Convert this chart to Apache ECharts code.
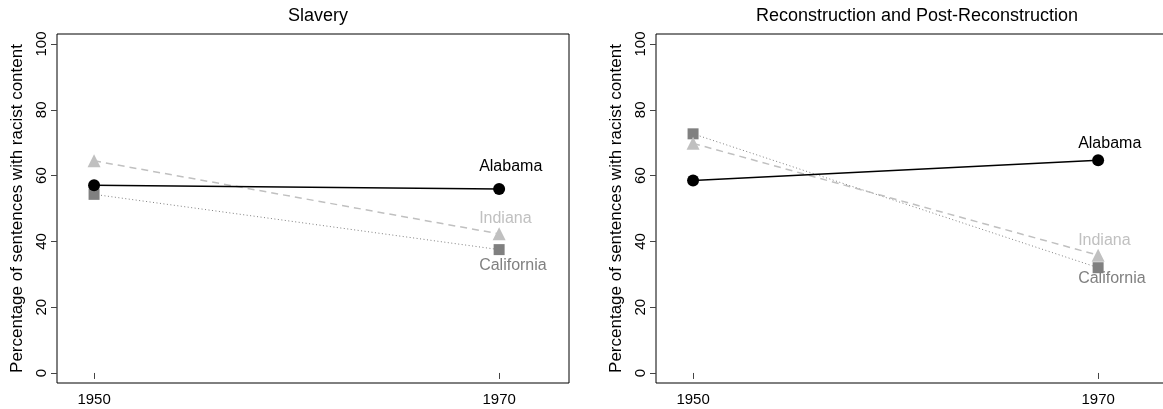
<!DOCTYPE html>
<html>
<head>
<meta charset="utf-8">
<script src="https://cdn.jsdelivr.net/npm/echarts@6/dist/echarts.min.js"></script>
<style>
html,body{margin:0;padding:0;background:#fff;}
#chart{width:1163px;height:409px;}
</style>
</head>
<body>
<div id="chart"></div>
<script>
// ---- data ----
const years = [1950, 1970];
const xTicks = [1950, 1970];
const yTicks = [0, 20, 40, 60, 80, 100];
const panelTitles = ['Slavery', 'Reconstruction and Post-Reconstruction'];
const stateNames = ['California', 'Indiana', 'Alabama'];
const slaveryCalifornia = [54.3, 37.5];
const slaveryIndiana = [64.5, 42.3];
const slaveryAlabama = [57.1, 55.9];
const reconCalifornia = [72.7, 32.0];
const reconIndiana = [69.8, 35.8];
const reconAlabama = [58.5, 64.7];

const FONT = 'Liberation Sans, Arial, Helvetica, sans-serif';
const chart = echarts.init(document.getElementById('chart'), null, {renderer: 'canvas'});

const styles = {
  California: {color: '#808080', symbol: 'rect', size: 11, line: {type: [1, 2.5], width: 1}},
  Indiana: {color: '#c0c0c0', symbol: 'triangle', size: 13, line: {type: [7, 5], width: 1.5}},
  Alabama: {color: '#000000', symbol: 'circle', size: 12, line: {type: 'solid', width: 1.5}}
};
// label offsets per panel [dx, dy] relative to 1970 point
const labelOffsets = [
  {California: [-20, 16], Indiana: [-20, -15], Alabama: [-20, -22]},
  {California: [-20, 11], Indiana: [-20, -15], Alabama: [-20, -17]}
];
const panelData = [
  {California: slaveryCalifornia, Indiana: slaveryIndiana, Alabama: slaveryAlabama},
  {California: reconCalifornia, Indiana: reconIndiana, Alabama: reconAlabama}
];

const gridLefts = [57, 656];
const grids = gridLefts.map(l => ({
  left: l, top: 34, width: 512, height: 349,
  outerBoundsMode: 'none', containLabel: false,
  show: true, borderColor: '#000', borderWidth: 1, backgroundColor: 'transparent'
}));

const xAxes = [0, 1].map(i => ({
  type: 'value', gridIndex: i, min: 1948.17, max: 1973.45,
  splitLine: {show: false},
  axisLine: {show: false},
  axisTick: {show: true, length: 6, lineStyle: {color: '#444', width: 1}, customValues: xTicks},
  axisLabel: {show: true, margin: 9, color: '#000', fontSize: 15, fontFamily: FONT,
    customValues: xTicks, formatter: v => String(v)}
}));

const yAxes = [0, 1].map(i => ({
  type: 'value', gridIndex: i, min: -3.05, max: 103.05,
  name: 'Percentage of sentences with racist content',
  nameLocation: 'middle', nameGap: 31, nameRotate: 90,
  nameTextStyle: {color: '#000', fontSize: 17, fontFamily: FONT},
  splitLine: {show: false},
  axisLine: {show: false},
  axisTick: {show: true, length: 6, lineStyle: {color: '#444', width: 1}, customValues: yTicks},
  axisLabel: {show: true, rotate: 90, margin: 8, color: '#000', fontSize: 15, fontFamily: FONT,
    customValues: yTicks, formatter: v => String(v)}
}));

const series = [];
[0, 1].forEach(p => {
  stateNames.forEach(name => {
    const st = styles[name];
    const vals = panelData[p][name];
    const data = years.map((yr, k) => {
      const item = {value: [yr, vals[k]]};
      if (k === years.length - 1) {
        item.label = {
          show: true, position: 'inside', align: 'left', verticalAlign: 'middle',
          offset: labelOffsets[p][name], formatter: name,
          color: st.color, fontSize: 16, fontFamily: FONT
        };
      }
      return item;
    });
    series.push({
      type: 'line', name: name, xAxisIndex: p, yAxisIndex: p,
      data: data, symbol: st.symbol, symbolSize: st.size, showSymbol: true,
      itemStyle: {color: st.color},
      lineStyle: {color: st.color, width: st.line.width, type: st.line.type},
      label: {show: false},
      emphasis: {disabled: true},
      silent: true, animation: false, clip: false
    });
  });
});

chart.setOption({
  animation: false,
  backgroundColor: '#ffffff',
  title: panelTitles.map((t, i) => ({
    text: t, left: gridLefts[i] + 256, top: 2, textAlign: 'center',
    textStyle: {color: '#000', fontSize: 18, fontWeight: 'normal', fontFamily: FONT}
  })),
  grid: grids,
  xAxis: xAxes,
  yAxis: yAxes,
  series: series
});
</script>
</body>
</html>
